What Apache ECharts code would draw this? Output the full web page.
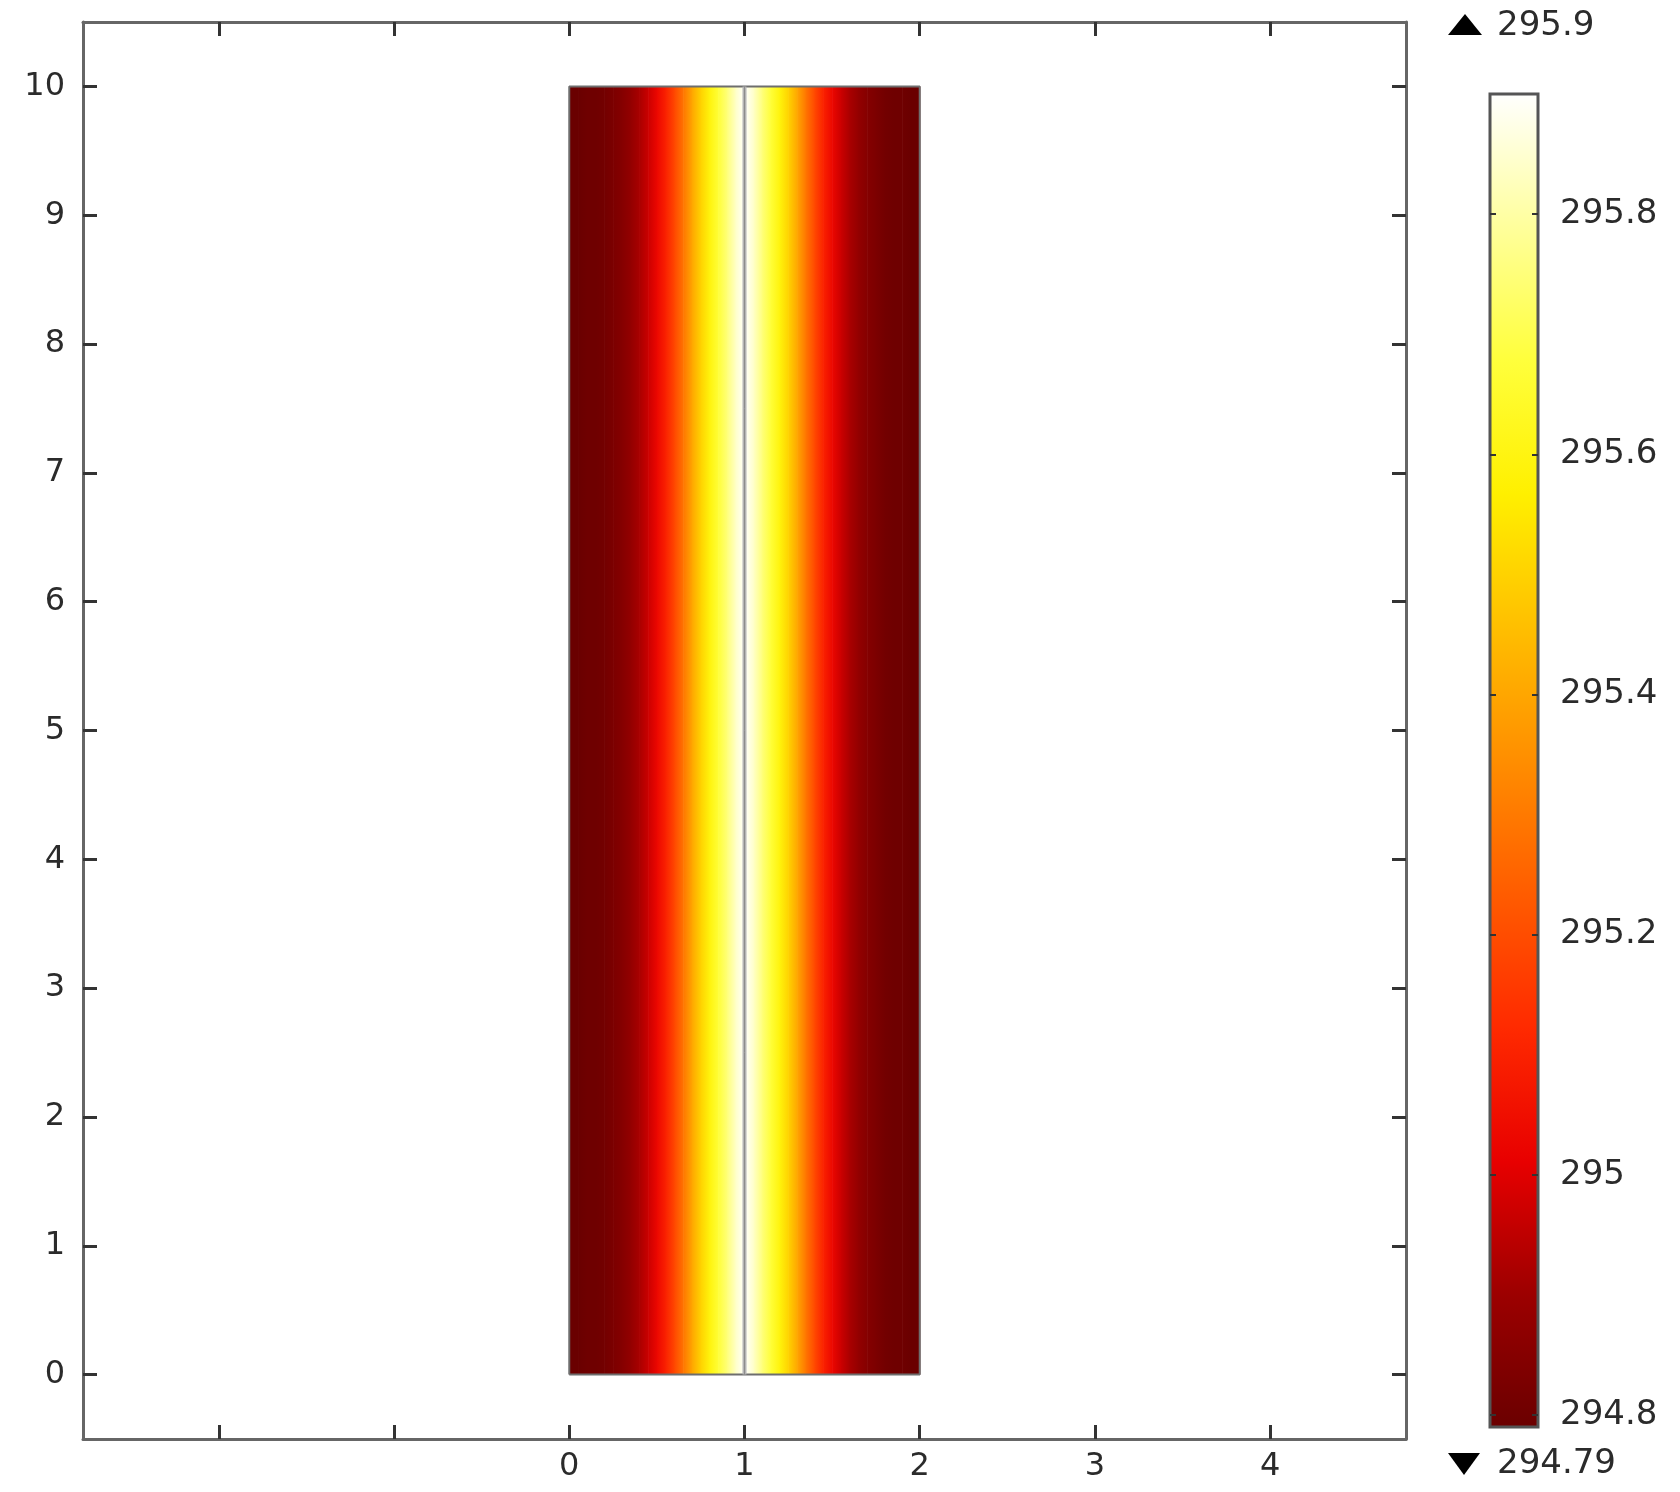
<!DOCTYPE html>
<html>
<head>
<meta charset="utf-8">
<title>Temperature</title>
<script src="https://cdn.jsdelivr.net/npm/echarts@6/dist/echarts.min.js"></script>
<style>
  html, body { margin: 0; padding: 0; background: #fff; }
  #chart { width: 1680px; height: 1492px; }
</style>
</head>
<body>
<div id="chart"></div>
<script>
// temperature profile across the domain (x in m, T in K)
var xPos = [0, 0.05, 0.1, 0.15, 0.2, 0.25, 0.3, 0.35, 0.4, 0.45, 0.5,
            0.55, 0.6, 0.65, 0.7, 0.75, 0.8, 0.85, 0.9, 0.95, 1.0,
            1.05, 1.1, 1.15, 1.2, 1.25, 1.3, 1.35, 1.4, 1.45, 1.5,
            1.55, 1.6, 1.65, 1.7, 1.75, 1.8, 1.85, 1.9, 1.95, 2.0];
var temp = [294.79, 294.79, 294.80, 294.80, 294.81, 294.83, 294.85, 294.88, 294.92, 294.97, 295.03,
            295.10, 295.19, 295.29, 295.40, 295.50, 295.59, 295.67, 295.75, 295.84, 295.90,
            295.84, 295.75, 295.67, 295.59, 295.50, 295.40, 295.29, 295.19, 295.10, 295.03,
            294.97, 294.92, 294.88, 294.85, 294.83, 294.81, 294.80, 294.80, 294.79, 294.79];

// domain outline
var domainX = [0, 1, 2];
var domainY = [0, 10];

// axis ticks
var xTicks = [-2, -1, 0, 1, 2, 3, 4];
var xLabels = [0, 1, 2, 3, 4];
var yTicks = [0, 1, 2, 3, 4, 5, 6, 7, 8, 9, 10];

// colour bar
var tMin = 294.79;
var tMax = 295.9;
var cbTicks = [294.8, 295, 295.2, 295.4, 295.6, 295.8];
var palette = ['#6a0000', '#9c0000', '#e80000', '#ff2a00', '#ff5c00', '#ff8e00',
               '#ffbf00', '#fff000', '#ffff3c', '#ffff9c', '#ffffff'];

var FONT = 'DejaVu Sans';

function tempColor(t) {
    var n = (t - tMin) / (tMax - tMin);
    n = Math.max(0, Math.min(1, n));
    return echarts.color.lerp(n, palette);
}

var strips = [];
for (var i = 0; i < xPos.length - 1; i++) {
    strips.push([xPos[i], xPos[i + 1], temp[i], temp[i + 1]]);
}

var outline = [
    [domainX[0], domainY[0]], [domainX[2], domainY[0]],
    [domainX[2], domainY[1]], [domainX[0], domainY[1]], [domainX[0], domainY[0]]
];
var midLine = [[domainX[1], domainY[0]], [domainX[1], domainY[1]]];

function renderStrip(params, api) {
    var p0 = api.coord([api.value(0), domainY[1]]);
    var p1 = api.coord([api.value(1), domainY[0]]);
    return {
        type: 'rect',
        shape: { x: p0[0], y: p0[1], width: p1[0] - p0[0] + 0.6, height: p1[1] - p0[1] },
        style: {
            fill: new echarts.graphic.LinearGradient(0, 0, 1, 0, [
                { offset: 0, color: tempColor(api.value(2)) },
                { offset: 1, color: tempColor(api.value(3)) }
            ])
        }
    };
}

var barStops = palette.map(function (c, k) {
    return { offset: 1 - k / (palette.length - 1), color: c };
});

function frameAxis(pos, grid) {
    return {
        type: 'value',
        gridIndex: grid,
        position: pos,
        splitLine: { show: false },
        axisLine: { show: true, onZero: false, lineStyle: { color: '#666', width: 3 } }
    };
}

var tickStyle = { color: '#333', width: 3 };

var chart = echarts.init(document.getElementById('chart'));
var option = {
    animation: false,
    backgroundColor: '#fff',
    textStyle: { fontFamily: FONT },
    grid: [
        { left: 83, right: 274, top: 22, bottom: 53 },
        {
            left: 1490, top: 94, width: 48, height: 1333, show: true,
            borderColor: '#555', borderWidth: 3,
            backgroundColor: new echarts.graphic.LinearGradient(0, 0, 0, 1, barStops)
        }
    ],
    xAxis: [
        Object.assign(frameAxis('bottom', 0), {
            min: -2.775, max: 4.775,
            axisTick: { inside: true, length: 14, customValues: xTicks, lineStyle: tickStyle },
            axisLabel: { customValues: xLabels, fontSize: 32, color: '#2b2b2b', margin: 12, fontFamily: FONT }
        }),
        Object.assign(frameAxis('top', 0), {
            min: -2.775, max: 4.775,
            axisTick: { inside: true, length: 14, customValues: xTicks, lineStyle: tickStyle },
            axisLabel: { show: false }
        }),
        {
            type: 'value', gridIndex: 1, min: 0, max: 1, show: false
        }
    ],
    yAxis: [
        Object.assign(frameAxis('left', 0), {
            min: -0.5, max: 10.5,
            axisTick: { inside: true, length: 14, customValues: yTicks, lineStyle: tickStyle },
            axisLabel: { customValues: yTicks, fontSize: 32, color: '#2b2b2b', margin: 18, fontFamily: FONT }
        }),
        Object.assign(frameAxis('right', 0), {
            min: -0.5, max: 10.5,
            axisTick: { inside: true, length: 14, customValues: yTicks, lineStyle: tickStyle },
            axisLabel: { show: false }
        }),
        {
            type: 'value', gridIndex: 1, position: 'right', min: tMin, max: tMax,
            axisLine: { show: false, onZero: false },
            splitLine: { show: false },
            axisTick: { inside: true, length: 6, customValues: cbTicks, lineStyle: { color: '#333', width: 2 } },
            axisLabel: { customValues: cbTicks, fontSize: 34, color: '#2b2b2b', margin: 22, fontFamily: FONT }
        },
        {
            type: 'value', gridIndex: 1, position: 'left', min: tMin, max: tMax,
            axisLine: { show: false, onZero: false },
            splitLine: { show: false },
            axisTick: { inside: true, length: 6, customValues: cbTicks, lineStyle: { color: '#333', width: 2 } },
            axisLabel: { show: false }
        }
    ],
    series: [
        {
            type: 'custom',
            xAxisIndex: 0, yAxisIndex: 0,
            renderItem: renderStrip,
            data: strips,
            silent: true,
            z: 2
        },
        {
            type: 'line',
            xAxisIndex: 0, yAxisIndex: 0,
            data: outline,
            symbol: 'none',
            lineStyle: { color: '#6e6e6e', width: 2 },
            silent: true,
            z: 3
        },
        {
            type: 'line',
            xAxisIndex: 0, yAxisIndex: 0,
            data: midLine,
            symbol: 'none',
            lineStyle: { color: '#b4b4b4', width: 4 },
            silent: true,
            z: 3
        },
        {
            type: 'line',
            xAxisIndex: 0, yAxisIndex: 0,
            data: midLine,
            symbol: 'none',
            lineStyle: { color: '#8c8c8c', width: 1 },
            silent: true,
            z: 4
        }
    ],
    graphic: [
        { type: 'polygon', shape: { points: [[1448, 35], [1482, 35], [1465, 14]] }, style: { fill: '#000' } },
        { type: 'text', x: 1497, y: 26, style: { text: String(tMax), fontSize: 34, fill: '#2b2b2b', fontFamily: FONT, verticalAlign: 'middle', align: 'left' } },
        { type: 'polygon', shape: { points: [[1448, 1453], [1480, 1453], [1464, 1475]] }, style: { fill: '#000' } },
        { type: 'text', x: 1497, y: 1464, style: { text: String(tMin), fontSize: 34, fill: '#2b2b2b', fontFamily: FONT, verticalAlign: 'middle', align: 'left' } }
    ]
};
chart.setOption(option);
</script>
</body>
</html>
